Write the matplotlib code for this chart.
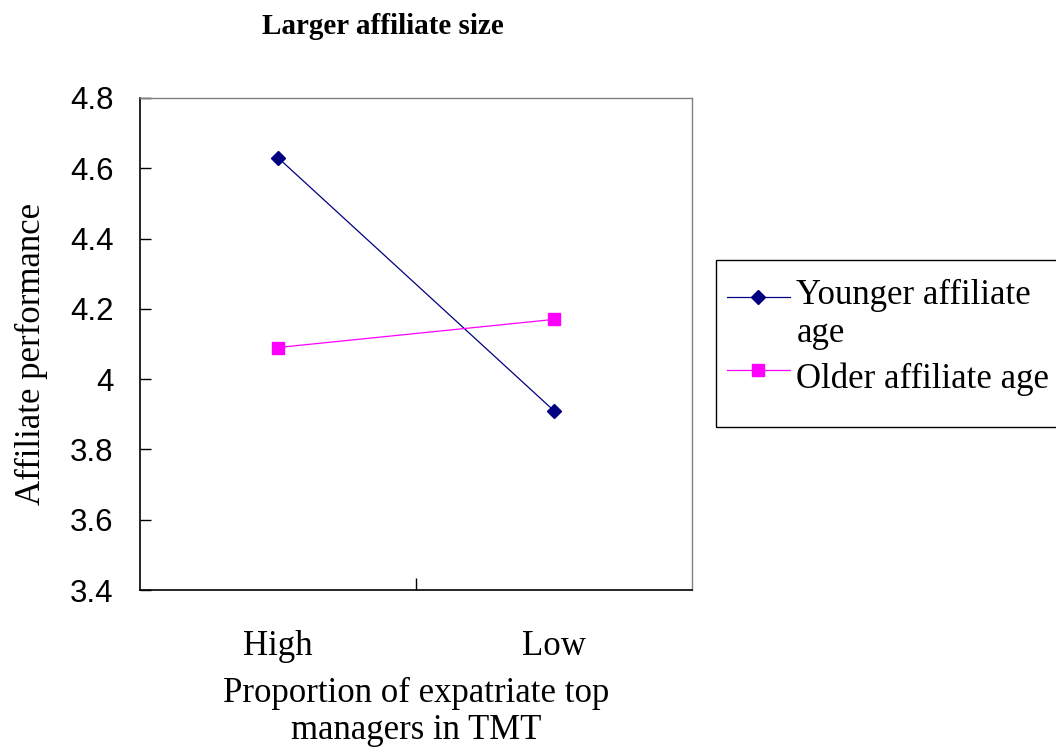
import matplotlib
matplotlib.use("Agg")
import matplotlib.pyplot as plt
from matplotlib.patches import Rectangle

categories = ["High", "Low"]
younger = [4.63, 3.91]
older = [4.09, 4.17]
y_ticks = [3.4, 3.6, 3.8, 4.0, 4.2, 4.4, 4.6, 4.8]
y_tick_labels = ["3.4", "3.6", "3.8", "4", "4.2", "4.4", "4.6", "4.8"]

serif = ["Liberation Serif", "DejaVu Serif"]
sans = ["Liberation Sans", "DejaVu Sans"]

W, H = 1056, 752
fig = plt.figure(figsize=(W / 100, H / 100), dpi=100)
ax = fig.add_axes([0.1326, 0.2154, 0.5227, 0.6543])

x = list(range(len(categories)))
ax.plot(x, younger, color="#000080", lw=0.9, marker="D", markersize=7,
        label="Younger affiliate\nage")
ax.plot(x, older, color="#FF00FF", lw=0.9, marker="s", markersize=9,
        label="Older affiliate age")

ax.set_xlim(-0.5, 1.5)
ax.set_ylim(3.4, 4.8)
ax.set_yticks(y_ticks)
ax.set_yticklabels(y_tick_labels, fontfamily=sans, fontsize=22.5)
ax.tick_params(axis="y", direction="in", length=8, width=1, pad=19)

ax.set_xticks(x)
ax.set_xticklabels(categories, fontfamily=serif, fontsize=25)
ax.tick_params(axis="x", length=0, pad=29)
ax.set_xticks([0.5], minor=True)
ax.tick_params(axis="x", which="minor", direction="in", length=9, width=1)

for side in ["left", "bottom"]:
    ax.spines[side].set_color("black")
    ax.spines[side].set_linewidth(1.2)
for side in ["top", "right"]:
    ax.spines[side].set_color("#808080")
    ax.spines[side].set_linewidth(1)

ax.set_ylabel("Affiliate performance", fontfamily=serif, fontsize=25)
ax.yaxis.set_label_coords(-0.167, 0.48)
ax.set_xlabel("Proportion of expatriate top\nmanagers in TMT", fontfamily=serif,
              fontsize=25, labelpad=10, linespacing=1.15)

fig.text(383 / W, 1 - 27 / H, "Larger affiliate size", fontfamily=serif, fontsize=21,
         fontweight="bold", ha="center", va="center")

# legend frame (Excel-style box, runs off the right edge)
fig.patches.append(Rectangle((716 / W, 1 - 427 / H), 360 / W, 167 / H,
                             transform=fig.transFigure, fill=False,
                             edgecolor="black", linewidth=1))

leg = fig.legend(loc="upper left", bbox_to_anchor=(727 / W, 1 - 279 / H),
                 prop={"family": serif, "size": 25}, frameon=False,
                 handlelength=1.8, handletextpad=0.2, borderpad=0,
                 labelspacing=0.35, borderaxespad=0)
# put the first handle beside the first line of its two-line label
h = leg.legend_handles[0]
h.set_ydata([v + 13 for v in h.get_ydata()])
h2 = leg.legend_handles[1]
h2.set_ydata([v + 4 for v in h2.get_ydata()])

fig.savefig("out.png", dpi=100)
